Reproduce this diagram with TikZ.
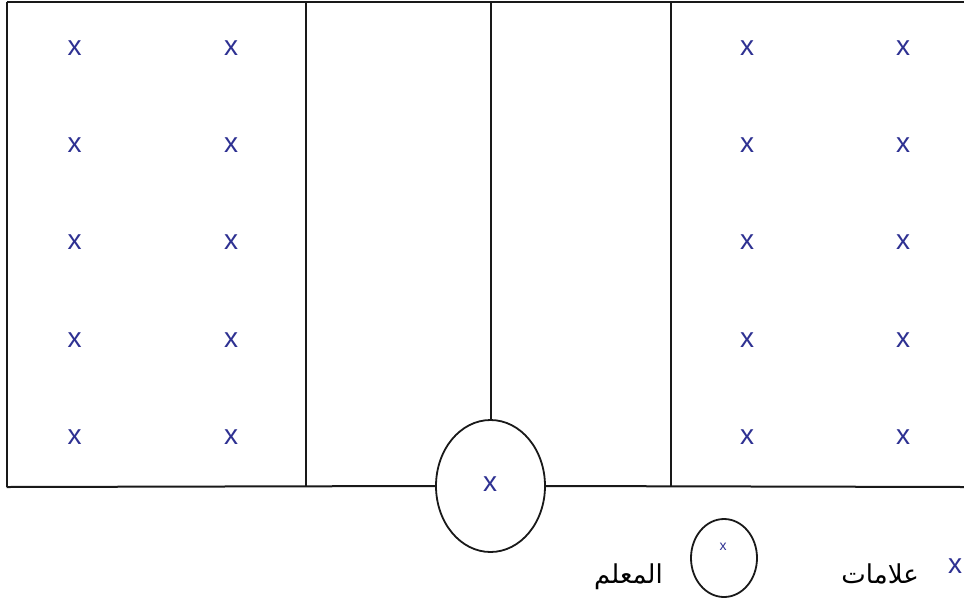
\documentclass[tikz,border=0pt]{standalone}
\usepackage{fontspec}
\setmainfont{Liberation Sans}
\newfontfamily\arabicfont[Script=Arabic]{DejaVu Sans}
\TeXXeTstate=1
\usetikzlibrary{shapes.geometric}
\definecolor{xblue}{RGB}{46,49,146}
\tikzset{
  pupil/.style={text=xblue, font=\fontsize{28}{28}\selectfont, inner sep=0pt},
  smallpupil/.style={text=xblue, font=\fontsize{14}{14}\selectfont, inner sep=0pt},
  fieldline/.style={draw=black!90, line width=2pt},
  teacherbox/.style={ellipse, draw=black!90, line width=1.8pt, inner sep=0pt},
  arlabel/.style={font=\arabicfont\fontsize{26}{26}\selectfont, inner sep=0pt, anchor=base east}
}
\begin{document}
\begin{tikzpicture}[x=1pt,y=-1pt]
\useasboundingbox[fill=white] (0,0) rectangle (964,598);
% teacher
\node[teacherbox, minimum width=109pt, minimum height=132pt] (teacher) at (490.5,486) {};
\node[pupil] (tx) at (490,484) {x};
% field corners
\coordinate (tl) at (6.5,1.5);
\coordinate (tr) at (964,1.5);
\coordinate (bl) at (6.5,487);
\coordinate (br) at (964,487);
\coordinate (v1t) at (306,1.5);
\coordinate (v1b) at (306,487);
\coordinate (v2t) at (671,1.5);
\coordinate (v2b) at (671,487);
\coordinate (mt) at (490.5,1.5);
\draw[fieldline] (tl) -- (tr);
\draw[fieldline] (tl) -- (bl);
\draw[fieldline] (bl) -- (teacher.west);
\draw[fieldline] (teacher.east) -- (br);
\draw[fieldline] (v1t) -- (v1b);
\draw[fieldline] (v2t) -- (v2b);
\draw[fieldline] (mt) -- (teacher.north);
% pupils
\foreach \c [count=\i] in {74.5,231,747,903}{
  \foreach \r [count=\j] in {48,145,242,340,437}{
    \node[pupil] (p\i\j) at (\c,\r) {x};
  }
}
% legend
\node[teacherbox, minimum width=66pt, minimum height=78pt] (legt) at (724,558) {};
\node[smallpupil] (legtx) at (723,547) {x};
\node[arlabel] (legpl) at (919,583) {\beginR علامات\endR};
\node[arlabel] (legtl) at (663,583) {\beginR المعلم\endR};
\node[pupil] (legp) at (955,566) {x};
\end{tikzpicture}
\end{document}
